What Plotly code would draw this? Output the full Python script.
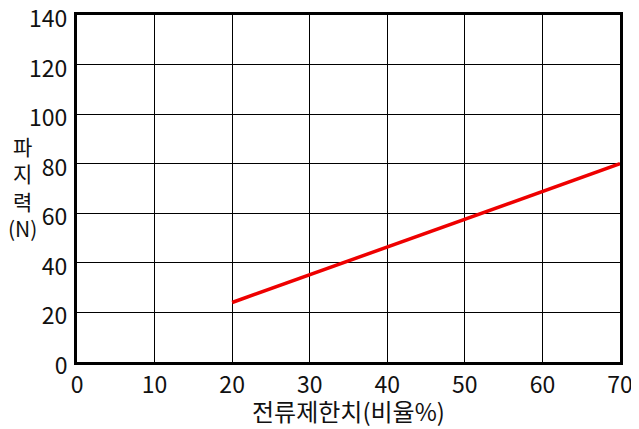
import plotly.graph_objects as go

x_vals = [20, 70]
y_vals = [24, 80]
x_ticks = [0, 10, 20, 30, 40, 50, 60, 70]
y_ticks = [0, 20, 40, 60, 80, 100, 120, 140]
x_title = "전류제한치(비율%)"
y_title = "파<br>지<br>력<br>(N)"

FONT = "Noto Sans CJK KR"
FS = 23

fig = go.Figure()
fig.add_trace(go.Scatter(x=x_vals, y=y_vals, mode="lines",
                         line=dict(color="#ee0000", width=3.5), showlegend=False))

# page body has an 8px margin, so the figure is sized/offset to compensate
fig.update_layout(
    width=631, height=421,
    margin=dict(l=69, r=19, t=7, b=67, autoexpand=False),
    paper_bgcolor="white", plot_bgcolor="white",
    font=dict(family=FONT, size=FS, color="#111"),
    xaxis=dict(range=[0, 70], tickvals=x_ticks, showgrid=True, gridcolor="black", gridwidth=1,
               showline=True, linecolor="black", linewidth=3, mirror=True, automargin=False,
               zeroline=False, ticks="", ticklabelstandoff=0, ticklabeloverflow="allow",
               tickfont=dict(size=FS)),
    yaxis=dict(range=[0, 140], tickvals=y_ticks, showgrid=True, gridcolor="black", gridwidth=1,
               showline=True, linecolor="black", linewidth=3, mirror=True, automargin=False,
               zeroline=False, ticks="", ticklabelstandoff=2, ticklabelshift=4,
               ticklabeloverflow="allow", tickfont=dict(size=FS)),
)
fig.add_annotation(text=x_title, xref="paper", yref="paper", x=0.5, y=-0.14,
                   xanchor="center", yanchor="middle", showarrow=False,
                   font=dict(size=24, family=FONT))
fig.add_annotation(text=y_title, xref="paper", yref="paper", x=-0.1, y=0.505,
                   xanchor="center", yanchor="middle", showarrow=False, align="center",
                   font=dict(size=21, family=FONT))
fig.write_html("out.html")
